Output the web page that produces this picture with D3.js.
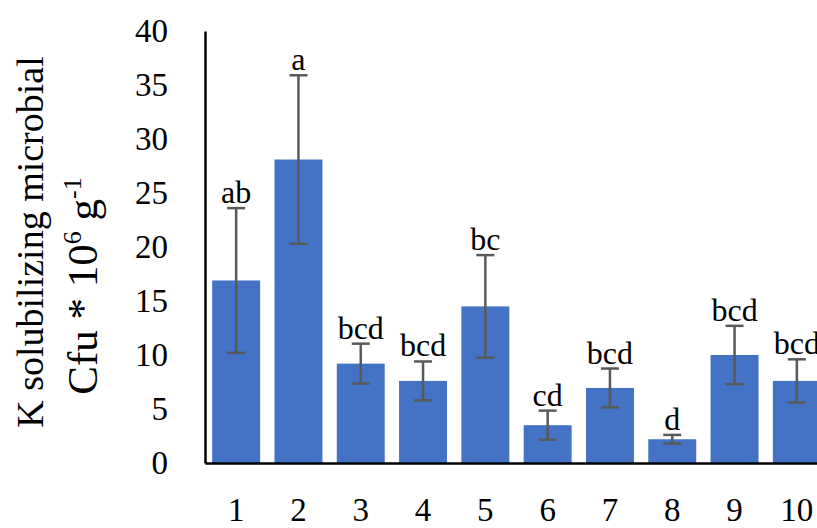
<!DOCTYPE html>
<html>
<head>
<meta charset="utf-8">
<script src="https://cdn.jsdelivr.net/npm/d3@7/dist/d3.min.js"></script>
<style>
  body { margin: 0; background: #fff; }
  svg { display: block; font-family: "Liberation Serif", "DejaVu Serif", serif; }
</style>
</head>
<body>
<svg id="chart" width="817" height="528"></svg>
<script>
// data
var categories = ["1", "2", "3", "4", "5", "6", "7", "8", "9", "10"];
var means = [16.9, 28.1, 9.2, 7.6, 14.5, 3.5, 6.95, 2.2, 10.0, 7.6];
var errors = [6.7, 7.8, 1.85, 1.8, 4.75, 1.35, 1.8, 0.4, 2.7, 2.0];
var letters = ["ab", "a", "bcd", "bcd", "bc", "cd", "bcd", "d", "bcd", "bcd"];
var yTicks = [0, 5, 10, 15, 20, 25, 30, 35, 40];

var svg = d3.select("#chart");

var plotLeft = 205, plotBottom = 463, plotTop = 31;

// the plot runs past the right edge of the picture (cropped)
var x = d3.scaleBand()
  .domain(categories)
  .range([plotLeft, 828])
  .paddingInner(0.23)
  .paddingOuter(0.115);

var y = d3.scaleLinear()
  .domain([0, 40])
  .range([plotBottom, plotTop]);

var data = categories.map(function(c, i) {
  return { cat: c, mean: means[i], err: errors[i], letter: letters[i] };
});

// bars
svg.selectAll(".bar")
  .data(data)
  .enter()
  .append("rect")
  .attr("class", "bar")
  .attr("x", function(d) { return x(d.cat); })
  .attr("width", x.bandwidth())
  .attr("y", function(d) { return y(d.mean); })
  .attr("height", function(d) { return plotBottom - y(d.mean); })
  .attr("fill", "#4472c4");

// error bars
var capW = 9;
var err = svg.selectAll(".err")
  .data(data)
  .enter()
  .append("g")
  .attr("class", "err")
  .attr("stroke", "#595959")
  .attr("stroke-width", 2.5);

err.append("line")
  .attr("x1", function(d) { return x(d.cat) + x.bandwidth() / 2; })
  .attr("x2", function(d) { return x(d.cat) + x.bandwidth() / 2; })
  .attr("y1", function(d) { return y(d.mean + d.err); })
  .attr("y2", function(d) { return y(d.mean - d.err); });

[1, -1].forEach(function(s) {
  err.append("line")
    .attr("x1", function(d) { return x(d.cat) + x.bandwidth() / 2 - capW; })
    .attr("x2", function(d) { return x(d.cat) + x.bandwidth() / 2 + capW; })
    .attr("y1", function(d) { return y(d.mean + s * d.err); })
    .attr("y2", function(d) { return y(d.mean + s * d.err); });
});

// significance letters
svg.selectAll(".letter")
  .data(data)
  .enter()
  .append("text")
  .attr("class", "letter")
  .attr("x", function(d) { return x(d.cat) + x.bandwidth() / 2; })
  .attr("y", function(d) { return y(d.mean + d.err) - 5; })
  .attr("text-anchor", "middle")
  .attr("font-size", 32)
  .attr("fill", "#000")
  .text(function(d) { return d.letter; });

// axes
var yAxis = d3.axisLeft(y).tickValues(yTicks).tickSize(0).tickPadding(37);
var gy = svg.append("g")
  .attr("transform", "translate(" + plotLeft + ",0)")
  .call(yAxis);
gy.select(".domain").attr("stroke", "#000").attr("stroke-width", 2.5);
gy.selectAll("text")
  .attr("font-family", "Liberation Serif")
  .attr("font-size", 33)
  .attr("fill", "#000")
  .attr("dy", "0.33em");

var xAxis = d3.axisBottom(x).tickSize(0).tickPadding(35);
var gx = svg.append("g")
  .attr("transform", "translate(0," + plotBottom + ")")
  .call(xAxis);
gx.select(".domain").attr("stroke", "#000").attr("stroke-width", 2.5);
gx.selectAll("text")
  .attr("font-family", "Liberation Serif")
  .attr("font-size", 33)
  .attr("fill", "#000");

// y axis title, two lines
svg.append("text")
  .attr("transform", "translate(43,242) rotate(-90)")
  .attr("text-anchor", "middle")
  .attr("font-size", 38)
  .text("K solubilizing microbial");

var t2 = svg.append("text")
  .attr("transform", "translate(97,286) rotate(-90)")
  .attr("text-anchor", "middle")
  .attr("font-size", 43);
t2.append("tspan").text("Cfu * 10");
t2.append("tspan").attr("font-size", 26).attr("dy", -16).text("6");
t2.append("tspan").attr("dy", 16).text(" g");
t2.append("tspan").attr("font-size", 26).attr("dy", -16).text("-1");
</script>
</body>
</html>
